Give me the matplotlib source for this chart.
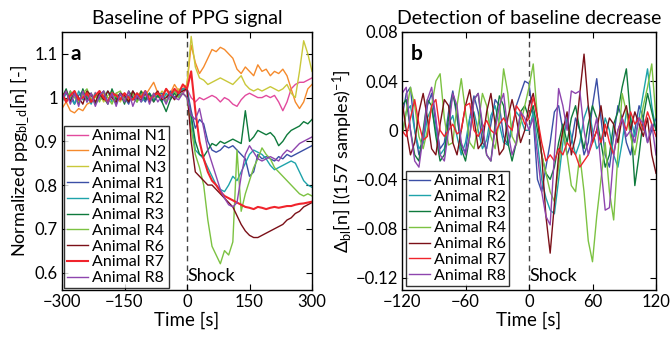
import numpy as np
import matplotlib
matplotlib.use("Agg")
import matplotlib.pyplot as plt

plt.rcParams['font.family'] = ['Lato', 'DejaVu Sans']
plt.rcParams['mathtext.fontset'] = 'custom'
plt.rcParams['mathtext.rm'] = 'Lato'
plt.rcParams['mathtext.it'] = 'Lato:italic'
plt.rcParams['xtick.direction'] = 'in'
plt.rcParams['ytick.direction'] = 'in'
plt.rcParams['xtick.top'] = True
plt.rcParams['ytick.right'] = True
plt.rcParams['axes.unicode_minus'] = True

# ---------------- Panel a: normalized PPG baseline ----------------
time_a = np.arange(-300, 301, 10)  # seconds, 10 s resolution

labels_a = ["Animal N1", "Animal N2", "Animal N3", "Animal R1", "Animal R2",
            "Animal R3", "Animal R4", "Animal R6", "Animal R7", "Animal R8"]
colors_a = ["#E24A9E", "#F58A2C", "#C9C83A", "#3B4FA6", "#1EA3AA",
            "#0E7A3C", "#7CC242", "#7B1018", "#F0242C", "#8E45AE"]

n1 = [1.0, 1.01, 0.995, 1.005, 0.99, 1.01, 1.0, 0.99, 1.012, 0.995,
      1.005, 0.99, 1.01, 1.0, 0.995, 1.01, 0.99, 1.005, 1.0, 1.01,
      0.995, 1.005, 0.99, 1.01, 1.0, 1.005, 0.995, 1.01, 1.005, 1.01,
      1.02, 1.0, 0.99, 1.0, 0.995, 1.0, 1.005, 1.0, 0.99, 1.0,
      0.995, 0.985, 0.98, 0.995, 1.005, 1.01, 1.005, 1.0, 1.0, 1.005,
      1.0, 1.005, 0.99, 0.97, 0.99, 1.02, 1.03, 1.035, 1.035, 1.04, 1.045]
n2 = [0.975, 0.99, 0.97, 0.965, 0.975, 0.97, 0.985, 0.99, 1.005, 0.995,
      1.01, 1.0, 0.995, 1.01, 1.0, 1.005, 0.995, 1.01, 1.0, 1.015,
      1.005, 1.02, 1.035, 1.01, 1.0, 1.02, 1.01, 1.03, 1.015, 1.02,
      1.03, 1.12, 1.08, 1.055, 1.07, 1.09, 1.11, 1.105, 1.115, 1.11,
      1.1, 1.09, 1.065, 1.055, 1.07, 1.06, 1.05, 1.075, 1.06, 1.065,
      1.05, 1.06, 1.055, 1.065, 1.05, 1.02, 0.99, 0.975, 0.99, 1.02, 1.03]
n3 = [1.0, 1.015, 0.995, 1.01, 0.99, 1.005, 1.015, 0.995, 1.0, 1.01,
      0.99, 1.005, 1.015, 1.0, 0.99, 1.01, 1.0, 1.015, 0.995, 1.005,
      1.01, 0.995, 1.01, 1.0, 1.015, 1.005, 1.01, 1.0, 1.02, 1.015,
      1.03, 1.14, 1.07, 1.045, 1.04, 1.03, 1.035, 1.04, 1.045, 1.04,
      1.035, 1.03, 1.04, 1.05, 1.03, 1.02, 1.015, 1.02, 1.015, 1.02,
      1.025, 1.02, 1.015, 1.02, 1.03, 1.01, 1.0, 1.06, 1.13, 1.1, 1.06]
r1 = [1.01, 0.99, 1.015, 0.985, 1.005, 1.015, 0.99, 1.01, 0.985, 1.0,
      1.015, 0.99, 1.005, 0.985, 1.01, 1.0, 0.985, 1.015, 0.995, 1.005,
      0.99, 1.01, 0.995, 1.005, 1.01, 0.99, 1.015, 1.0, 1.01, 1.02,
      1.02, 0.97, 0.93, 0.95, 0.94, 0.9, 0.88, 0.875, 0.88, 0.89,
      0.885, 0.89, 0.88, 0.87, 0.86, 0.82, 0.83, 0.87, 0.86, 0.865,
      0.86, 0.855, 0.865, 0.86, 0.87, 0.865, 0.87, 0.875, 0.88, 0.885, 0.89]
r2 = [0.99, 1.01, 1.0, 0.985, 1.015, 0.995, 1.005, 0.985, 1.01, 0.995,
      1.0, 1.015, 0.99, 1.0, 1.01, 0.99, 1.005, 0.995, 1.01, 0.99,
      1.0, 1.01, 0.995, 1.005, 0.99, 1.01, 1.0, 1.015, 1.005, 1.02,
      1.02, 0.95, 0.88, 0.87, 0.86, 0.84, 0.82, 0.8, 0.79, 0.785,
      0.8, 0.82, 0.81, 0.83, 0.85, 0.87, 0.88, 0.875, 0.87, 0.86,
      0.845, 0.835, 0.84, 0.845, 0.85, 0.855, 0.85, 0.83, 0.81, 0.8, 0.795]
r3 = [1.0, 1.02, 0.99, 1.015, 0.985, 1.02, 0.995, 1.01, 0.985, 1.015,
      1.0, 0.985, 1.02, 0.995, 1.01, 0.985, 1.015, 1.0, 0.99, 1.015,
      0.995, 1.01, 0.99, 1.005, 0.99, 0.968, 0.995, 1.01, 1.0, 1.01,
      1.0, 0.96, 0.9, 0.87, 0.865, 0.88, 0.895, 0.89, 0.9, 0.895,
      0.9, 0.905, 0.9, 0.895, 0.97, 0.9, 0.91, 0.925, 0.92, 0.915,
      0.92, 0.91, 0.89, 0.9, 0.915, 0.925, 0.93, 0.935, 0.945, 0.94, 0.95]
r4 = [1.005, 0.99, 1.015, 1.0, 0.99, 1.01, 1.02, 0.995, 1.005, 0.99,
      1.015, 1.0, 0.985, 1.01, 1.015, 0.995, 1.0, 1.01, 0.99, 1.005,
      1.015, 0.995, 1.0, 1.01, 1.005, 0.99, 1.01, 1.015, 1.0, 1.01,
      1.0, 0.93, 0.87, 0.84, 0.8, 0.72, 0.66, 0.64, 0.62, 0.65,
      0.64, 0.67, 0.88, 0.74, 0.78, 0.81, 0.84, 0.86, 0.885, 0.87,
      0.86, 0.84, 0.83, 0.82, 0.81, 0.8, 0.79, 0.78, 0.775, 0.78, 0.775]
r6 = [1.0, 1.015, 0.99, 1.01, 1.0, 0.985, 1.015, 1.005, 0.99, 1.01,
      0.995, 1.015, 1.0, 0.99, 1.01, 1.005, 0.99, 1.015, 1.0, 0.995,
      1.01, 0.99, 1.005, 1.015, 0.995, 1.0, 1.01, 0.995, 1.01, 1.015,
      1.02, 0.9, 0.83, 0.82, 0.81, 0.8, 0.8, 0.79, 0.78, 0.77,
      0.76, 0.75, 0.73, 0.71, 0.695, 0.685, 0.68, 0.68, 0.685, 0.69,
      0.695, 0.7, 0.705, 0.71, 0.72, 0.725, 0.735, 0.74, 0.75, 0.755, 0.76]
r7 = [1.01, 0.99, 1.005, 1.015, 0.995, 1.0, 1.01, 0.99, 1.005, 1.015,
      1.0, 0.99, 1.01, 1.005, 0.995, 1.01, 1.0, 0.995, 1.01, 1.0,
      1.015, 0.995, 1.005, 1.01, 1.0, 1.02, 1.005, 1.02, 1.01, 1.03,
      1.02, 1.06, 0.97, 0.9, 0.86, 0.83, 0.81, 0.8, 0.785, 0.775,
      0.77, 0.765, 0.76, 0.755, 0.75, 0.748, 0.745, 0.75, 0.748, 0.745,
      0.748, 0.75, 0.748, 0.75, 0.752, 0.752, 0.755, 0.757, 0.758, 0.76, 0.762]
r8 = [0.995, 1.015, 0.985, 1.01, 0.98, 1.015, 0.99, 1.01, 0.98, 1.005,
      1.015, 0.985, 1.01, 0.98, 1.01, 0.99, 1.015, 0.98, 1.005, 0.99,
      1.015, 0.985, 1.01, 0.99, 1.005, 0.985, 1.01, 1.0, 0.995, 1.01,
      1.0, 0.96, 0.95, 0.975, 0.93, 0.88, 0.85, 0.82, 0.79, 0.77,
      0.755, 0.75, 0.76, 0.82, 0.87, 0.89, 0.875, 0.86, 0.855, 0.86,
      0.865, 0.86, 0.855, 0.87, 0.88, 0.875, 0.885, 0.895, 0.9, 0.905, 0.91]
series_a = [n1, n2, n3, r1, r2, r3, r4, r6, r7, r8]

# ---------------- Panel b: baseline decrease detector ----------------
time_b = np.arange(-120, 121, 4)  # seconds, 4 s resolution

labels_b = ["Animal R1", "Animal R2", "Animal R3", "Animal R4",
            "Animal R6", "Animal R7", "Animal R8"]
colors_b = colors_a[3:]

d_r1 = [0.01, 0.03, 0.035, 0.0, -0.02, -0.01, 0.02, 0.03, 0.005, -0.015,
        -0.01, 0.015, 0.032, 0.01, -0.012, -0.018, 0.01, 0.028, 0.015, -0.01,
        -0.015, 0.005, 0.025, 0.02, -0.005, -0.012, 0.0, 0.02, 0.03, 0.04,
        0.038, 0.01, -0.04, -0.05, -0.03, -0.01, 0.015, 0.02, 0.0, -0.02,
        -0.01, 0.01, 0.0, -0.02, -0.01, 0.02, 0.042, 0.01, -0.02, -0.03,
        -0.005, 0.02, 0.01, -0.01, -0.02, 0.0, 0.02, 0.01, -0.01, 0.0, 0.01]
d_r2 = [-0.005, 0.015, 0.02, 0.0, -0.015, -0.01, 0.01, 0.018, 0.0, -0.02,
        -0.015, 0.005, 0.012, -0.005, -0.02, -0.01, 0.01, 0.015, 0.0, -0.015,
        -0.008, 0.012, 0.02, 0.005, -0.01, -0.012, 0.005, 0.015, 0.01, 0.0,
        0.0, 0.015, -0.01, -0.04, -0.055, -0.065, -0.068, -0.04, -0.01, 0.01,
        -0.005, -0.02, -0.01, 0.01, 0.02, 0.0, -0.015, -0.01, 0.01, 0.0,
        -0.02, -0.03, -0.01, 0.015, 0.01, -0.005, 0.01, 0.03, 0.05, 0.02, 0.0]
d_r3 = [0.02, 0.025, 0.0, -0.02, -0.025, 0.0, 0.025, 0.02, -0.005, -0.025,
        -0.02, 0.01, 0.03, 0.015, -0.015, -0.025, -0.005, 0.025, 0.03, 0.0,
        -0.02, -0.025, 0.005, 0.028, 0.02, -0.01, -0.025, -0.01, 0.015, 0.02,
        0.01, 0.02, 0.0, -0.02, -0.035, -0.04, -0.03, -0.01, 0.005, -0.01,
        0.01, 0.02, 0.0, -0.015, 0.005, 0.02, 0.01, -0.01, -0.03, -0.02,
        0.005, 0.015, 0.035, 0.05, 0.01, -0.045, -0.02, 0.01, 0.03, 0.015, 0.0]
d_r4 = [-0.005, 0.015, 0.035, 0.02, -0.005, -0.015, 0.0, 0.02, 0.04, 0.046,
        0.01, -0.012, -0.01, 0.02, 0.042, 0.015, -0.01, -0.015, 0.005, 0.03,
        0.02, -0.005, -0.015, 0.01, 0.05, 0.03, -0.005, -0.012, 0.005, 0.02,
        0.035, 0.054, 0.01, -0.02, -0.035, -0.05, -0.058, -0.03, 0.0, -0.02,
        -0.045, -0.05, -0.02, -0.05, -0.09, -0.107, -0.07, -0.04, -0.01, -0.05,
        -0.073, -0.02, 0.03, 0.015, -0.005, -0.02, 0.0, 0.02, 0.035, 0.054, 0.01]
d_r6 = [0.025, 0.0, -0.02, -0.01, 0.015, 0.03, 0.01, -0.015, -0.02, 0.005,
        0.025, 0.02, -0.01, -0.02, 0.0, 0.02, 0.033, 0.01, -0.015, -0.01,
        0.015, 0.03, 0.005, -0.02, -0.015, 0.01, 0.025, 0.01, -0.01, 0.0,
        0.02, 0.03, 0.01, -0.02, -0.07, -0.1, -0.06, -0.02, 0.0, 0.015,
        -0.02, -0.005, 0.03, 0.062, 0.02, -0.01, 0.0, 0.02, -0.005, 0.01,
        0.005, -0.01, 0.01, 0.02, 0.0, 0.015, 0.005, -0.005, 0.01, -0.02, -0.035]
d_r7 = [0.0, -0.005, 0.01, 0.025, 0.005, -0.008, -0.005, 0.02, 0.025, 0.0,
        -0.005, 0.0, 0.005, -0.003, 0.0, 0.02, 0.022, 0.0, -0.005, 0.002,
        0.008, 0.0, -0.003, 0.005, 0.01, 0.004, 0.0, 0.02, 0.015, 0.005,
        0.01, 0.027, 0.01, -0.01, -0.025, -0.02, -0.025, -0.015, -0.02, -0.01,
        -0.015, -0.02, -0.03, -0.025, -0.02, -0.01, 0.0, -0.01, 0.005, -0.01,
        -0.02, 0.0, 0.01, 0.0, 0.015, 0.005, 0.01, 0.0, 0.015, 0.005, -0.005]
d_r8 = [0.03, 0.035, 0.0, -0.025, -0.03, -0.005, 0.025, 0.035, 0.01, -0.02,
        -0.025, 0.0, 0.03, 0.02, -0.01, -0.02, -0.005, 0.025, 0.03, 0.005,
        -0.02, -0.025, 0.0, 0.02, 0.03, 0.0, -0.02, -0.01, 0.015, 0.01,
        0.0, 0.01, -0.02, -0.05, -0.07, -0.077, -0.02, 0.034, 0.02, 0.0,
        0.032, 0.03, 0.032, 0.0, -0.02, -0.005, 0.01, -0.03, -0.065, -0.063,
        -0.02, 0.0, 0.01, -0.005, 0.0, -0.01, 0.01, 0.005, -0.01, 0.005, -0.02]
series_b = [d_r1, d_r2, d_r3, d_r4, d_r6, d_r7, d_r8]

# ---------------- Figure ----------------
fig = plt.figure(figsize=(6.70, 3.43), dpi=100)
ax_a = fig.add_axes([62 / 670, 1 - 290 / 343, 250 / 670, 258 / 343])
ax_b = fig.add_axes([402 / 670, 1 - 290 / 343, 254 / 670, 258 / 343])

for ys, c, lab in zip(series_a, colors_a, labels_a):
    lw = 1.5 if lab == "Animal R7" else 1.0
    ax_a.plot(time_a, ys, color=c, lw=lw, label=lab)
for ys, c, lab in zip(series_b, colors_b, labels_b):
    ax_b.plot(time_b, ys, color=c, lw=1.0, label=lab)

ax_a.set_xlim(-300, 300)
ax_a.set_ylim(0.56, 1.15)
ax_a.set_xticks([-300, -150, 0, 150, 300])
ax_a.set_yticks([0.6, 0.7, 0.8, 0.9, 1.0, 1.1])
ax_a.set_yticklabels(["0.6", "0.7", "0.8", "0.9", "1", "1.1"])

ax_b.set_xlim(-120, 120)
ax_b.set_ylim(-0.13, 0.08)
ax_b.set_xticks([-120, -60, 0, 60, 120])
ax_b.set_yticks([-0.12, -0.08, -0.04, 0, 0.04, 0.08])
ax_b.set_yticklabels(["\u22120.12", "\u22120.08", "\u22120.04", "0", "0.04", "0.08"])

for ax, letter in ((ax_a, "a"), (ax_b, "b")):
    ax.axvline(0, color="#444444", lw=1.0, ls=(0, (4, 3)), zorder=0)
    ax.tick_params(labelsize=12, length=4, width=0.8, pad=3)
    for s in ax.spines.values():
        s.set_linewidth(1.0)
    ax.text(0.035, 0.955, letter, transform=ax.transAxes, fontsize=15,
            fontweight="bold", va="top", ha="left")
    ax.text(0.025, 0.025, "Shock", transform=ax.get_xaxis_transform(),
            fontsize=13, ha="left", va="bottom")
    ax.set_xlabel("Time [s]", fontsize=13.5, labelpad=1)
    leg = ax.legend(loc="lower left", fontsize=11.5, frameon=True, fancybox=False,
                    edgecolor="black", handlelength=1.3, handletextpad=0.25,
                    labelspacing=0.1, borderpad=0.2,
                    borderaxespad=0.1 if ax is ax_a else 0.25)
    leg.get_frame().set_linewidth(1.0)

ax_a.set_title("Baseline of PPG signal", fontsize=14, pad=6)
ax_b.set_title("Detection of baseline decrease", fontsize=14, pad=6)
ax_a.set_ylabel(r"Normalized ppg$_{\mathregular{bl\_d}}$[n] [-]", fontsize=13, labelpad=2)
ax_b.set_ylabel(r"$\Delta_{\mathregular{bl}}$[n] [(157 samples)$^{\mathregular{-1}}$]",
                fontsize=13, labelpad=0)

fig.savefig("out.png", dpi=100)
